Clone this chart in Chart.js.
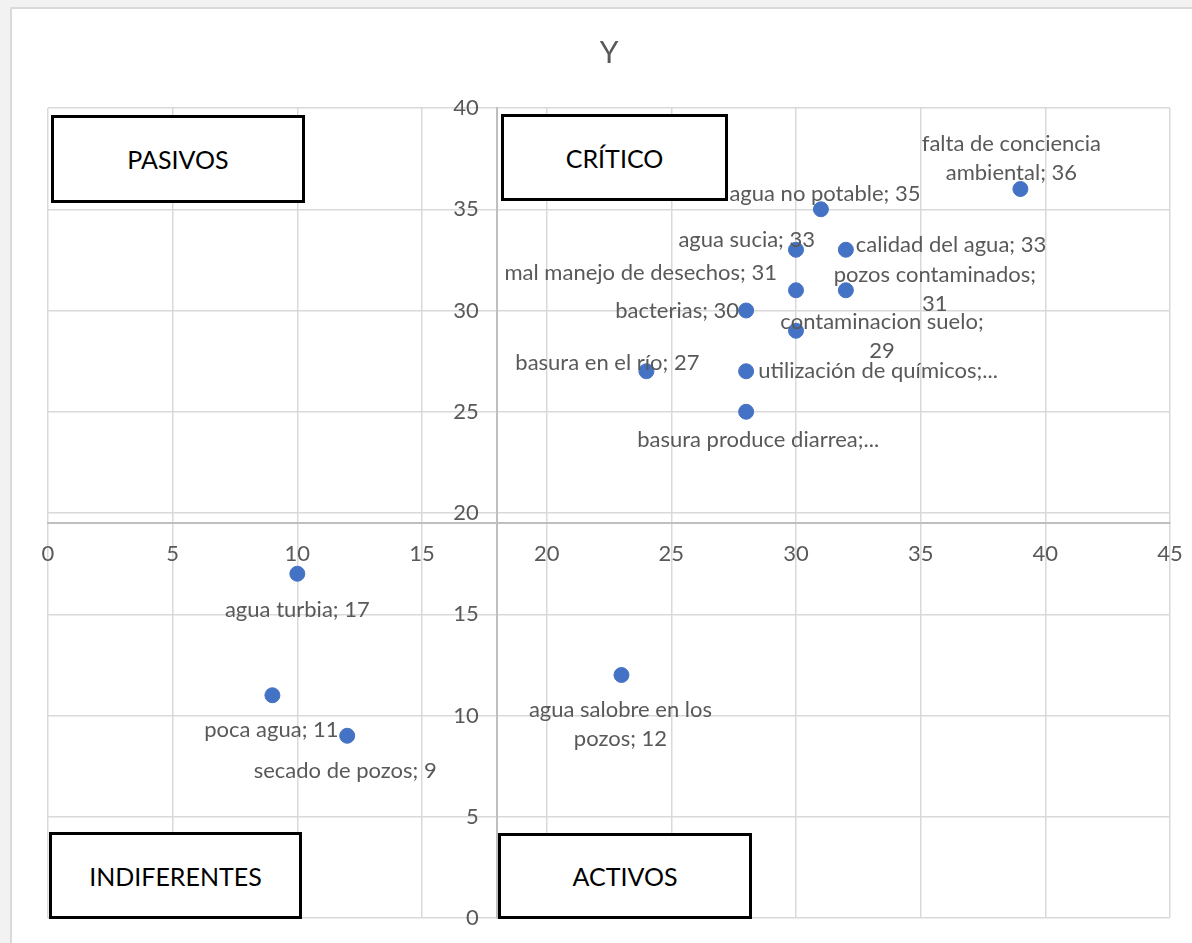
<!DOCTYPE html>
<html lang="es">
<head>
<meta charset="utf-8">
<title>Y</title>
<script src="https://cdn.jsdelivr.net/npm/chart.js@4.4.1/dist/chart.umd.min.js"></script>
<style>
  body {
    margin: 0;
    width: 1192px;
    height: 943px;
    overflow: hidden;
    position: relative;
    background: #f2f2f2;
    font-family: Lato, "Open Sans", sans-serif;
  }
  .frame {
    position: absolute;
    left: 10px;
    top: 7px;
    width: 1210px;
    height: 960px;
    background: #fff;
    border: 2px solid #d9d9d9;
  }
  #chart {
    position: absolute;
    left: 0;
    top: 0;
  }
  .tag {
    position: absolute;
    box-sizing: border-box;
    border: 3px solid #000;
    background: #fff;
    display: flex;
    align-items: center;
    justify-content: center;
    font-size: 25px;
    color: #000;
  }
</style>
</head>
<body>
<div class="frame"></div>
<canvas id="chart" width="1192" height="943"></canvas>
<div class="tag" style="left:51px;top:115px;width:254px;height:88px">PASIVOS</div>
<div class="tag" style="left:501px;top:114px;width:227px;height:87px">CRÍTICO</div>
<div class="tag" style="left:49px;top:832px;width:253px;height:87px">INDIFERENTES</div>
<div class="tag" style="left:498px;top:833px;width:254px;height:86px">ACTIVOS</div>
<script>
(() => {
  // Values (x = influence, y = dependence)
  const xValues = [39, 31, 30, 32, 30, 32, 28, 30, 24, 28, 28, 10, 9, 12, 23];
  const yValues = [36, 35, 33, 33, 31, 31, 30, 29, 27, 27, 25, 17, 11, 9, 12];

  // Data labels as Excel shows them (manual wraps, truncated ones kept)
  const pointLabels = [
    "falta de conciencia\nambiental; 36",
    "agua no potable; 35",
    "agua sucia; 33",
    "calidad del agua; 33",
    "mal manejo de desechos; 31",
    "pozos contaminados;\n31",
    "bacterias; 30",
    "contaminacion suelo;\n29",
    "basura en el río; 27",
    "utilización de químicos;...",
    "basura produce diarrea;...",
    "agua turbia; 17",
    "poca agua; 11",
    "secado de pozos; 9",
    "agua salobre en los\npozos; 12",
  ];

  const xTicks = { min: 0, max: 45, step: 5 };
  const yTicks = { min: 0, max: 40, step: 5 };
  const axisCross = { x: 18, y: 19.5 };

  // Where each label sits relative to its point (pixels)
  const labelPlacement = [
    { align: "center", dx: -9, dy: -45 },
    { align: "center", dx: 4, dy: -15 },
    { align: "right", dx: 19, dy: -10 },
    { align: "left", dx: 10, dy: -5 },
    { align: "right", dx: -19, dy: -17 },
    { align: "center", dx: 89, dy: -15 },
    { align: "right", dx: -7, dy: 0 },
    { align: "center", dx: 86, dy: -9 },
    { align: "right", dx: 53, dy: -8 },
    { align: "left", dx: 12, dy: 0 },
    { align: "center", dx: 12, dy: 28 },
    { align: "center", dx: 0, dy: 36 },
    { align: "center", dx: -1, dy: 35 },
    { align: "center", dx: -2, dy: 35 },
    { align: "center", dx: -1, dy: 35 },
  ];

  const FONT = "Lato";
  const TEXT_GREY = "#595959";
  const TICK_FONT_SIZE = 22;

  const pointLabelPlugin = {
    id: "pointLabels",
    afterDatasetsDraw(chart) {
      const ctx = chart.ctx;
      const meta = chart.getDatasetMeta(0);
      ctx.save();
      ctx.font = `22px ${FONT}`;
      ctx.fillStyle = TEXT_GREY;
      ctx.textBaseline = "middle";
      meta.data.forEach((pt, i) => {
        const p = labelPlacement[i];
        ctx.textAlign = p.align;
        pointLabels[i].split("\n").forEach((line, k) => {
          ctx.fillText(line, pt.x + p.dx, pt.y + p.dy + k * 29);
        });
      });
      ctx.restore();
    },
  };

  // Chart.js ignores ticks.padding for a value-positioned y axis,
  // so the y tick labels are written here, off the y scale's own ticks.
  const yTickLabelPlugin = {
    id: "yTickLabels",
    beforeDatasetsDraw(chart) {
      const { ctx, scales } = chart;
      const xAt = scales.x.getPixelForValue(axisCross.x) - 18;
      ctx.save();
      ctx.font = `${TICK_FONT_SIZE}px ${FONT}`;
      ctx.fillStyle = TEXT_GREY;
      ctx.textAlign = "right";
      ctx.textBaseline = "middle";
      scales.y.ticks.forEach((t) => {
        ctx.fillText(String(t.value), xAt, scales.y.getPixelForValue(t.value));
      });
      ctx.restore();
    },
  };

  function axisOptions(ticks, pos, showLabels) {
    return {
      type: "linear",
      min: ticks.min,
      max: ticks.max,
      position: pos,
      // let layout.padding alone decide the plot area
      afterFit(scale) {
        scale.paddingLeft = 0;
        scale.paddingRight = 0;
        scale.paddingTop = 0;
        scale.paddingBottom = 0;
      },
      ticks: {
        display: showLabels,
        stepSize: ticks.step,
        autoSkip: false,
        color: TEXT_GREY,
        font: { family: FONT, size: TICK_FONT_SIZE },
        padding: 18,
      },
      grid: { color: "#d9d9d9", lineWidth: 1.5, drawTicks: false },
      border: { color: "#bfbfbf", width: 2 },
    };
  }

  function draw() {
    const ctx = document.getElementById("chart").getContext("2d");
    new Chart(ctx, {
      type: "scatter",
      data: {
        datasets: [
          {
            label: "Y",
            data: xValues.map((x, i) => ({ x, y: yValues[i] })),
            backgroundColor: "#4472c4",
            borderColor: "#4472c4",
            pointRadius: 7.5,
            pointHoverRadius: 7.5,
          },
        ],
      },
      options: {
        responsive: false,
        animation: false,
        layout: { padding: { left: 48, right: 22, top: 10, bottom: 25 } },
        plugins: {
          legend: { display: false },
          tooltip: { enabled: false },
          title: {
            display: true,
            text: "Y",
            color: TEXT_GREY,
            font: { family: FONT, size: 30, weight: "normal" },
            padding: { top: 25, bottom: 37 },
          },
        },
        scales: {
          x: axisOptions(xTicks, { y: axisCross.y }, true),
          y: axisOptions(yTicks, { x: axisCross.x }, false),
        },
      },
      plugins: [pointLabelPlugin, yTickLabelPlugin],
    });
  }

  document.fonts.load(`22px ${FONT}`).then(draw, draw);
})();
</script>
</body>
</html>
